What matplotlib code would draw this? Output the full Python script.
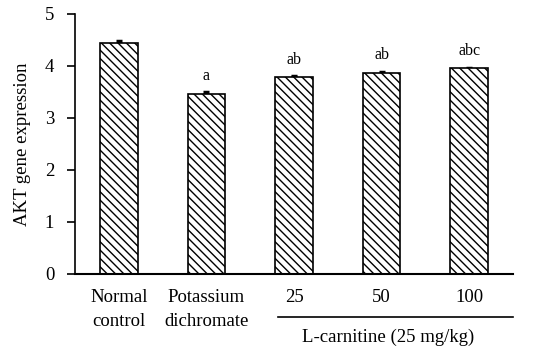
import matplotlib.pyplot as plt
import matplotlib.transforms as mtransforms

plt.rcParams["font.family"] = ["Liberation Serif", "DejaVu Serif"]
plt.rcParams["hatch.linewidth"] = 1.0

groups = ["Normal\ncontrol", "Potassium\ndichromate", "25", "50", "100"]
akt_expr = [4.44, 3.47, 3.79, 3.87, 3.96]
akt_err = [0.04, 0.03, 0.01, 0.02, 0.01]
sig_letters = ["", "a", "ab", "ab", "abc"]

fig = plt.figure(figsize=(5.34, 3.48), dpi=100)
ax = fig.add_axes([75 / 534, 74 / 348, 438 / 534, 260 / 348])

x = list(range(len(groups)))
ax.bar(x, akt_expr, width=0.43, color="white", edgecolor="black",
       linewidth=1.2, hatch="\\\\\\\\", zorder=2)
ax.errorbar(x, akt_expr, yerr=akt_err, fmt="none", ecolor="black",
            elinewidth=1.5, capsize=2.5, capthick=2.5, zorder=1)

for xi, v, e, s in zip(x, akt_expr, akt_err, sig_letters):
    if s:
        ax.annotate(s, (xi, v + e), xytext=(0, 6), textcoords="offset points",
                    ha="center", va="bottom", fontsize=11.5)

ax.set_xlim(-0.5, 4.5)
ax.set_ylim(0, 5)
ax.set_yticks([0, 1, 2, 3, 4, 5])
ax.set_xticks(x)
ax.set_xticklabels(groups, fontsize=13.5, linespacing=1.5)
ax.tick_params(axis="x", length=0, pad=11)
ax.tick_params(axis="y", direction="out", length=6, width=1.2,
               labelsize=13.5, pad=9)
ax.set_ylabel("AKT gene expression", fontsize=13.5, labelpad=10)

for side in ["top", "right"]:
    ax.spines[side].set_visible(False)
ax.spines["left"].set_linewidth(1.2)
ax.spines["bottom"].set_linewidth(1.5)

# bracket line and label under the L-carnitine dose groups
trans = mtransforms.blended_transform_factory(ax.transData, ax.transAxes)
ax.plot([1.82, 4.5], [-0.165, -0.165], color="black", linewidth=1.2,
        transform=trans, clip_on=False)
ax.text(3.07, -0.245, "L-carnitine (25 mg/kg)", transform=trans,
        ha="center", va="center", fontsize=13.5)

fig.savefig("out.png", dpi=100)
